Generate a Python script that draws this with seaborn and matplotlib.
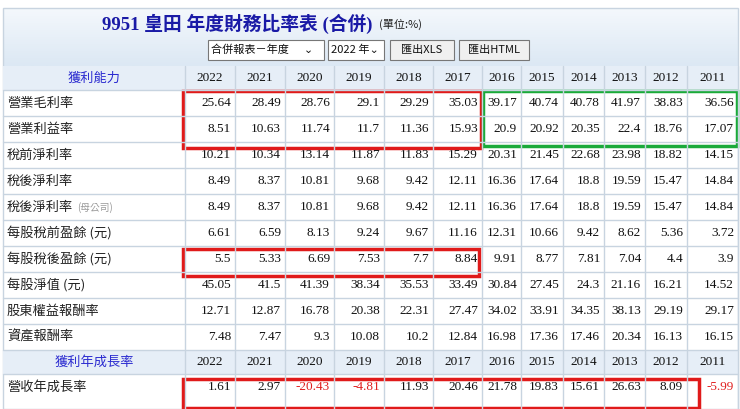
import matplotlib
matplotlib.use("Agg")
import matplotlib.pyplot as plt
import seaborn as sns
import numpy as np
from matplotlib.patches import Rectangle

sns.set_theme(style="white")
plt.rcParams['font.family'] = ['Noto Sans CJK TC', 'DejaVu Sans']

years = ["2022","2021","2020","2019","2018","2017","2016","2015","2014","2013","2012","2011"]
row_labels = ["營業毛利率","營業利益率","稅前淨利率","稅後淨利率","稅後淨利率","每股稅前盈餘 (元)",
              "每股稅後盈餘 (元)","每股淨值 (元)","股東權益報酬率","資產報酬率"]
gross = ["25.64","28.49","28.76","29.1","29.29","35.03","39.17","40.74","40.78","41.97","38.83","36.56"]
oper = ["8.51","10.63","11.74","11.7","11.36","15.93","20.9","20.92","20.35","22.4","18.76","17.07"]
pretax = ["10.21","10.34","13.14","11.87","11.83","15.29","20.31","21.45","22.68","23.98","18.82","14.15"]
net = ["8.49","8.37","10.81","9.68","9.42","12.11","16.36","17.64","18.8","19.59","15.47","14.84"]
net_parent = ["8.49","8.37","10.81","9.68","9.42","12.11","16.36","17.64","18.8","19.59","15.47","14.84"]
eps_pre = ["6.61","6.59","8.13","9.24","9.67","11.16","12.31","10.66","9.42","8.62","5.36","3.72"]
eps = ["5.5","5.33","6.69","7.53","7.7","8.84","9.91","8.77","7.81","7.04","4.4","3.9"]
bvps = ["45.05","41.5","41.39","38.34","35.53","33.49","30.84","27.45","24.3","21.16","16.21","14.52"]
roe = ["12.71","12.87","16.78","20.38","22.31","27.47","34.02","33.91","34.35","38.13","29.19","29.17"]
roa = ["7.48","7.47","9.3","10.08","10.2","12.84","16.98","17.36","17.46","20.34","16.13","16.15"]
rev_growth = ["1.61","2.97","-20.43","-4.81","11.93","20.46","21.78","19.83","15.61","26.63","8.09","-5.99"]
rows = [gross, oper, pretax, net, net_parent, eps_pre, eps, bvps, roe, roa]

fig = plt.figure(figsize=(7.4, 4.09), dpi=100)
ax = fig.add_axes([0, 0, 1, 1])
ax.set_xlim(0, 740); ax.set_ylim(409, 0); ax.axis("off")

L, R = 3, 738
col_edges = [185, 235, 285, 334, 384, 433, 482, 521, 563, 604, 645, 687, 738]
grid = "#c8d4e0"
grad = np.linspace(0, 1, 50).reshape(-1, 1)
ax.imshow(grad, extent=(L, R, 66, 8), cmap=matplotlib.colors.LinearSegmentedColormap.from_list("g", ["#f4f8fc", "#dce8f4"]), aspect="auto")
ax.add_patch(Rectangle((L, 8), R - L, 401, fill=False, ec=grid, lw=1))
ax.text(372, 24, "9951 皇田 年度財務比率表 (合併)", ha="right", va="center", fontsize=13.5, color="#1a1aa6", fontweight="bold", family=['Liberation Serif','Noto Sans CJK TC'])
ax.text(374, 24, "  (單位:%)", ha="left", va="center", fontsize=8, color="#222")
for x0, w, t in [(208, 116, "合併報表－年度      ⌄"), (328, 56, "2022 年⌄"), (390, 64, "匯出XLS"), (459, 70, "匯出HTML")]:
    ax.add_patch(Rectangle((x0, 40), w, 20, fc="#f0f0f0" if "匯" in t else "white", ec="#777", lw=0.8))
    ax.text(x0 + 3 if "匯" not in t else x0 + w / 2, 50, t, ha="left" if "匯" not in t else "center", va="center", fontsize=8, color="#111")

def header(y0, label):
    ax.add_patch(Rectangle((L, y0), R - L, 24, fc="#e6eef7", ec="none"))
    ax.text((L + 185) / 2, y0 + 12, label, ha="center", va="center", fontsize=9.5, color="#2b2bd0")
    for i, yr in enumerate(years):
        ax.text((col_edges[i] + col_edges[i + 1]) / 2, y0 + 12, yr, ha="center", va="center", fontsize=9.5,
                color="#111", family=['Liberation Serif'])

rh = 26
header(66, "獲利能力")
y = 90
for lab, vals in zip(row_labels, rows):
    ax.plot([L, R], [y, y], color=grid, lw=1)
    ax.text(L + 4, y + rh / 2, lab, ha="left", va="center", fontsize=9.5, color="#222")
    if vals is net_parent:
        ax.text(L + 74, y + rh / 2 + 1, "(母公司)", ha="left", va="center", fontsize=7, color="#999")
    for i, v in enumerate(vals):
        ax.text(col_edges[i + 1] - 4, y + rh / 2, v, ha="right", va="center", fontsize=9.5, color="#111", family=['Liberation Serif'])
    y += rh
ax.plot([L, R], [y, y], color=grid, lw=1)
header(y, "獲利年成長率")
y += 24
ax.plot([L, R], [y, y], color=grid, lw=1)
ax.text(L + 4, y + rh / 2, "營收年成長率", ha="left", va="center", fontsize=9.5, color="#222")
for i, v in enumerate(rev_growth):
    ax.text(col_edges[i + 1] - 4, y + rh / 2, v, ha="right", va="center", fontsize=9.5,
            color="#e02020" if v.startswith("-") else "#111", family=['Liberation Serif'])
for x in col_edges:
    ax.plot([x, x], [66, 409], color=grid, lw=1)

for (x0, y0, x1, y1, c) in [(183, 91, 481, 148, "#e01a1a"), (483, 91, 737, 146, "#1aaa3a"),
                            (183, 249, 479, 276, "#e01a1a"), (183, 379, 699, 408, "#e01a1a")]:
    ax.add_patch(Rectangle((x0, y0), x1 - x0, y1 - y0, fill=False, ec=c, lw=2.5))

fig.savefig("out.png", dpi=100)
